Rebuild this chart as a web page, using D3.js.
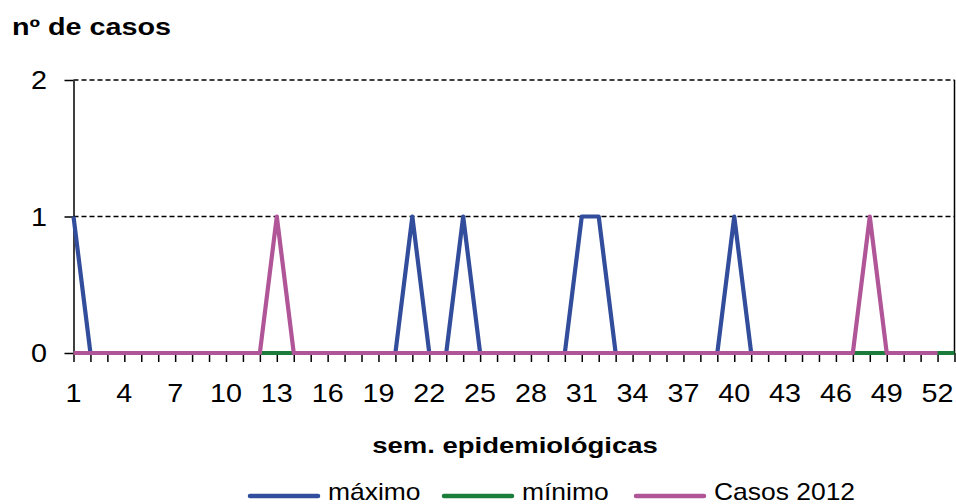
<!DOCTYPE html>
<html>
<head>
<meta charset="utf-8">
<script src="https://cdn.jsdelivr.net/npm/d3@7"></script>
<style>
  body { margin: 0; background: #fff; }
  text { font-family: "Liberation Sans", Arial, sans-serif; fill: #000; }
</style>
</head>
<body>
<script>

// semanas epidemiologicas
var weeks = [1,2,3,4,5,6,7,8,9,10,11,12,13,14,15,16,17,18,19,20,21,22,23,24,25,26,
             27,28,29,30,31,32,33,34,35,36,37,38,39,40,41,42,43,44,45,46,47,48,49,50,51,52,53];
var weekLabels = [1,4,7,10,13,16,19,22,25,28,31,34,37,40,43,46,49,52];

var maximo = [1,0,0,0,0,0,0,0,0,0,0,0,0,0,0,0,0,0,0,0,1,0,0,1,0,0,
              0,0,0,0,1,1,0,0,0,0,0,0,0,1,0,0,0,0,0,0,0,0,0,0,0,0];
var minimo = [0,0,0,0,0,0,0,0,0,0,0,0,0,0,0,0,0,0,0,0,0,0,0,0,0,0,
              0,0,0,0,0,0,0,0,0,0,0,0,0,0,0,0,0,0,0,0,0,0,0,0,0,0,0];
var casos2012 = [0,0,0,0,0,0,0,0,0,0,0,0,1,0,0,0,0,0,0,0,0,0,0,0,0,0,
                 0,0,0,0,0,0,0,0,0,0,0,0,0,0,0,0,0,0,0,0,0,1,0,0,0,0];
var yTicks = [0,1,2];

var seriesNames = ["máximo", "mínimo", "Casos 2012"];
var seriesData = [maximo, minimo, casos2012];
var colors = ["#324d9b", "#1b7d3a", "#b05597"];

var width = 956, height = 504;
var plotLeft = 73.5, plotRight = 954.5, plotTop = 80, plotBottom = 353;

var svg = d3.select("body")
  .append("svg")
  .attr("width", width)
  .attr("height", height);

var xScale = d3.scaleLinear()
  .domain([1, 53])
  .range([plotLeft, plotRight]);

var yScale = d3.scaleLinear()
  .domain([0, 2])
  .range([plotBottom, plotTop]);

// gridlines
svg.append("g")
  .selectAll("line")
  .data(yTicks.filter(function(d) { return d > 0; }))
  .enter().append("line")
    .attr("x1", plotLeft).attr("x2", plotRight)
    .attr("y1", function(d) { return yScale(d); })
    .attr("y2", function(d) { return yScale(d); })
    .attr("stroke", "#000")
    .attr("stroke-width", 1.5)
    .attr("stroke-dasharray", "5,3");

// right border
svg.append("line")
  .attr("x1", plotRight).attr("x2", plotRight)
  .attr("y1", plotTop).attr("y2", plotBottom)
  .attr("stroke", "#000").attr("stroke-width", 1.5);

var yAxis = svg.append("g")
  .attr("transform", "translate(" + plotLeft + ",0)")
  .call(d3.axisLeft(yScale).tickValues(yTicks).tickFormat(d3.format("d")).tickSize(9).tickSizeOuter(0));
yAxis.select(".domain").attr("stroke-width", 1.5);
yAxis.selectAll(".tick line").attr("stroke-width", 1.5);
yAxis.selectAll(".tick text").remove();

// y labels
svg.append("g")
  .selectAll("text")
  .data(yTicks)
  .enter().append("text")
    .attr("transform", function(d) { return "translate(47," + (yScale(d) + 9) + ") scale(1.15,1)"; })
    .attr("text-anchor", "end")
    .attr("font-size", 25)
    .text(function(d) { return d; });

var xAxis = svg.append("g")
  .attr("transform", "translate(0," + plotBottom + ")")
  .call(d3.axisBottom(xScale).tickValues(weeks).tickFormat("").tickSize(9).tickSizeOuter(0));
xAxis.select(".domain").attr("stroke-width", 1.5);
xAxis.selectAll(".tick line").attr("stroke-width", 1.5);

// tick labels every 3 weeks
svg.append("g")
  .selectAll("text")
  .data(weekLabels)
  .enter().append("text")
    .attr("transform", function(d) { return "translate(" + xScale(d) + ",402) scale(1.15,1)"; })
    .attr("text-anchor", "middle")
    .attr("font-size", 25)
    .text(function(d) { return d; });

var line = d3.line()
  .x(function(d, i) { return xScale(weeks[i]); })
  .y(function(d) { return yScale(d); });

svg.append("g")
  .selectAll("path")
  .data(seriesData)
  .enter().append("path")
    .attr("d", line)
    .attr("fill", "none")
    .attr("stroke", function(d, i) { return colors[i]; })
    .attr("stroke-width", 4.2)
    .attr("stroke-linejoin", "round");

// title and axis title
svg.append("text")
  .attr("transform", "translate(12,35) scale(1.25,1)")
  .attr("font-size", 23)
  .attr("font-weight", "bold")
  .text("nº de casos");

svg.append("text")
  .attr("transform", "translate(515,453) scale(1.25,1)")
  .attr("text-anchor", "middle")
  .attr("font-size", 22)
  .attr("font-weight", "bold")
  .text("sem. epidemiológicas");

// legend
var legendX = [250, 444, 636];
var legend = svg.append("g")
  .selectAll("g")
  .data(seriesNames)
  .enter().append("g")
    .attr("transform", function(d, i) { return "translate(" + legendX[i] + ",496)"; });

legend.append("line")
  .attr("x1", 0).attr("x2", 68)
  .attr("stroke", function(d, i) { return colors[i]; })
  .attr("stroke-width", 4.5)
  .attr("stroke-linecap", "round");

legend.append("text")
  .attr("transform", "translate(78,4) scale(1.15,1)")
  .attr("font-size", 23)
  .text(function(d) { return d; });

</script>
</body>
</html>
